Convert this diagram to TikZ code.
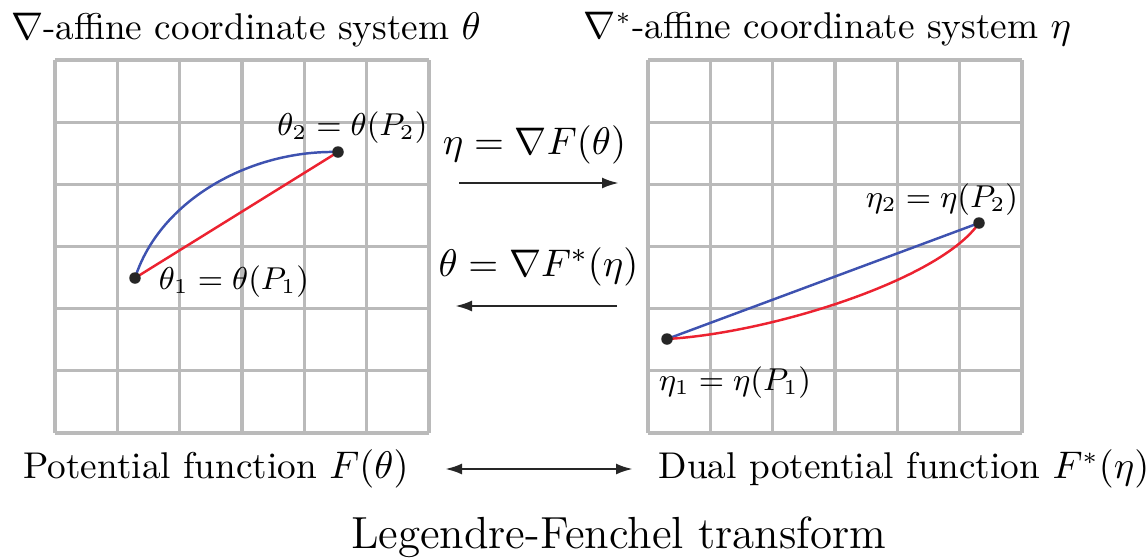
\documentclass[tikz,border=0pt]{standalone}
\usepackage{amsmath}
\usetikzlibrary{arrows.meta}
\usetikzlibrary{positioning}

\definecolor{geoblue}{RGB}{62,82,176}
\definecolor{geored}{RGB}{236,34,48}
\definecolor{gridgray}{RGB}{186,186,186}

\begin{document}
\begin{tikzpicture}[line join=round,
    gridline/.style={gridgray, line width=0.9pt},
    pt/.style={circle, fill=black!85, inner sep=0pt, minimum size=1.15mm},
    lbl/.style={font=\fontsize{10.6}{13}\selectfont},
    ptlbl/.style={font=\fontsize{8.8}{11}\selectfont},
    maplbl/.style={font=\fontsize{11.4}{14}\selectfont},
    map/.style={-{Latex[length=1.7mm,width=1.1mm]}, line width=0.75pt, black!85}]
  \useasboundingbox (0,0) rectangle (11.48,5.59);
  % left grid (theta side)
  \foreach \i in {0,...,6}{
    \draw[gridline] (0.55+0.6233*\i,1.26) -- (0.55+0.6233*\i,4.99);
    \draw[gridline] (0.55,1.26+0.6217*\i) -- (4.29,1.26+0.6217*\i);
  }
  % right grid (eta side)
  \foreach \i in {0,...,6}{
    \draw[gridline] (6.48+0.6233*\i,1.26) -- (6.48+0.6233*\i,4.99);
    \draw[gridline] (6.48,1.26+0.6217*\i) -- (10.22,1.26+0.6217*\i);
  }
  % titles
  \node[lbl] (ttheta) at (2.46,5.29) {$\nabla$-affine coordinate system $\theta$};
  \node[lbl] (teta) at (8.275,5.30) {$\nabla^*$-affine coordinate system $\eta$};
  % points
  \coordinate (t1) at (1.35,2.81);
  \coordinate (t2) at (3.38,4.07);
  \coordinate (e1) at (6.67,2.20);
  \coordinate (e2) at (9.79,3.36);
  % curves, theta side
  \draw[geoblue, line width=0.7pt] (t1) .. controls (1.60,3.59) and (2.50,4.09) .. (t2);
  \draw[geored, line width=0.7pt] (t1) -- (t2);
  % curves, eta side
  \draw[geoblue, line width=0.7pt] (e1) -- (e2);
  \draw[geored, line width=0.7pt] (e1) .. controls (7.70,2.26) and (9.40,2.79) .. (e2);
  \node[pt] (dt1) at (t1) {};
  \node[pt] (dt2) at (t2) {};
  \node[pt] (de1) at (e1) {};
  \node[pt] (de2) at (e2) {};
  % point labels
  \node[ptlbl] (lt2) at (3.525,4.31) {$\theta_2=\theta(P_2)$};
  \node[ptlbl] (lt1) at (2.34,2.77) {$\theta_1=\theta(P_1)$};
  \node[ptlbl] (le2) at (9.42,3.59) {$\eta_2=\eta(P_2)$};
  \node[ptlbl] (le1) at (7.35,1.76) {$\eta_1=\eta(P_1)$};
  % gradient maps
  \node[maplbl] (fwd) at (5.345,4.14) {$\eta=\nabla F(\theta)$};
  \node[maplbl] (bwd) at (5.385,2.92) {$\theta=\nabla F^*(\eta)$};
  \coordinate (fa) at (4.59,3.76);
  \coordinate (fb) at (6.19,3.76);
  \coordinate (ba) at (6.17,2.53);
  \coordinate (bb) at (4.55,2.53);
  \draw[map] (fa) -- (fb);
  \draw[map] (ba) -- (bb);
  % potentials
  \node[lbl] (pot) at (2.16,0.90) {Potential function $F(\theta)$};
  \node[lbl] (dual) at (9.04,0.90) {Dual potential function $F^*(\eta)$};
  \coordinate (la) at (4.45,0.90);
  \coordinate (lb) at (6.33,0.90);
  \draw[map, {Latex[length=1.7mm,width=1.1mm]}-{Latex[length=1.7mm,width=1.1mm]}] (la) -- (lb);
  \node[font=\fontsize{12.8}{15}\selectfont] (lf) at (6.185,0.22) {Legendre-Fenchel transform};
\end{tikzpicture}
\end{document}
